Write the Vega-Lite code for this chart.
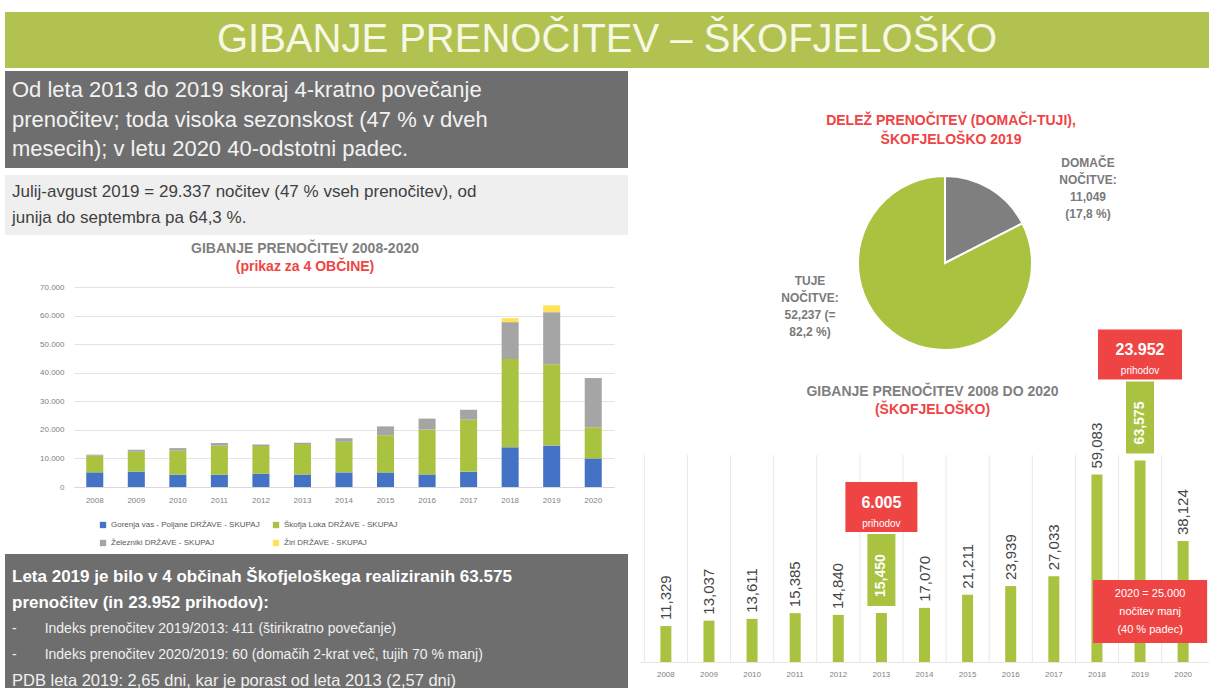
{
  "$schema": "https://vega.github.io/schema/vega-lite/v6.json",
  "padding": {"left": 5, "top": 12, "right": 0, "bottom": 0},
  "spacing": 3,
  "resolve": {"scale": {"color": "independent"}, "legend": {"color": "independent"}},
  "config": {
    "font": "Liberation Sans",
    "view": {"stroke": null},
    "title": {"fontWeight": "bold", "subtitleFontWeight": "bold"}
  },
  "datasets": {
    "naslov": [{"naslov": "GIBANJE PRENOČITEV – ŠKOFJELOŠKO"}],
    "prazno": [],
    "okvir1": [
      {"vrstica": 1, "besedilo": "Od leta 2013 do 2019 skoraj 4-kratno povečanje"},
      {"vrstica": 2, "besedilo": "prenočitev; toda visoka sezonskost (47 % v dveh"},
      {"vrstica": 3, "besedilo": "mesecih); v letu 2020 40-odstotni padec."}
    ],
    "okvir2": [
      {"vrstica": 1, "besedilo": "Julij-avgust 2019 = 29.337 nočitev (47 % vseh prenočitev), od"},
      {"vrstica": 2, "besedilo": "junija do septembra pa 64,3 %."}
    ],
    "okvir3": [
      {"vrstica": 1, "besedilo": "Leta 2019 je bilo v 4 občinah Škofjeloškega realiziranih 63.575"},
      {"vrstica": 2, "besedilo": "prenočitev (in 23.952 prihodov):"},
      {"vrstica": 3, "besedilo": "-\u2003\u2003Indeks prenočitev 2019/2013: 411 (štirikratno povečanje)"},
      {"vrstica": 4, "besedilo": "-\u2003\u2003Indeks prenočitev 2020/2019: 60 (domačih 2-krat več, tujih 70 % manj)"},
      {"vrstica": 5, "besedilo": "PDB leta 2019: 2,65 dni, kar je porast od leta 2013 (2,57 dni)"}
    ],
    "obcine": [
      {"leto": "2008", "obcina": "Gorenja vas - Poljane DRŽAVE - SKUPAJ", "nocitve": 5130},
      {"leto": "2008", "obcina": "Škofja Loka DRŽAVE - SKUPAJ", "nocitve": 5840},
      {"leto": "2008", "obcina": "Železniki DRŽAVE - SKUPAJ", "nocitve": 359},
      {"leto": "2009", "obcina": "Gorenja vas - Poljane DRŽAVE - SKUPAJ", "nocitve": 5370},
      {"leto": "2009", "obcina": "Škofja Loka DRŽAVE - SKUPAJ", "nocitve": 7000},
      {"leto": "2009", "obcina": "Železniki DRŽAVE - SKUPAJ", "nocitve": 667},
      {"leto": "2010", "obcina": "Gorenja vas - Poljane DRŽAVE - SKUPAJ", "nocitve": 4320},
      {"leto": "2010", "obcina": "Škofja Loka DRŽAVE - SKUPAJ", "nocitve": 8390},
      {"leto": "2010", "obcina": "Železniki DRŽAVE - SKUPAJ", "nocitve": 901},
      {"leto": "2011", "obcina": "Gorenja vas - Poljane DRŽAVE - SKUPAJ", "nocitve": 4320},
      {"leto": "2011", "obcina": "Škofja Loka DRŽAVE - SKUPAJ", "nocitve": 10150},
      {"leto": "2011", "obcina": "Železniki DRŽAVE - SKUPAJ", "nocitve": 915},
      {"leto": "2012", "obcina": "Gorenja vas - Poljane DRŽAVE - SKUPAJ", "nocitve": 4600},
      {"leto": "2012", "obcina": "Škofja Loka DRŽAVE - SKUPAJ", "nocitve": 9740},
      {"leto": "2012", "obcina": "Železniki DRŽAVE - SKUPAJ", "nocitve": 500},
      {"leto": "2013", "obcina": "Gorenja vas - Poljane DRŽAVE - SKUPAJ", "nocitve": 4400},
      {"leto": "2013", "obcina": "Škofja Loka DRŽAVE - SKUPAJ", "nocitve": 10650},
      {"leto": "2013", "obcina": "Železniki DRŽAVE - SKUPAJ", "nocitve": 400},
      {"leto": "2014", "obcina": "Gorenja vas - Poljane DRŽAVE - SKUPAJ", "nocitve": 5100},
      {"leto": "2014", "obcina": "Škofja Loka DRŽAVE - SKUPAJ", "nocitve": 10700},
      {"leto": "2014", "obcina": "Železniki DRŽAVE - SKUPAJ", "nocitve": 1270},
      {"leto": "2015", "obcina": "Gorenja vas - Poljane DRŽAVE - SKUPAJ", "nocitve": 5100},
      {"leto": "2015", "obcina": "Škofja Loka DRŽAVE - SKUPAJ", "nocitve": 13000},
      {"leto": "2015", "obcina": "Železniki DRŽAVE - SKUPAJ", "nocitve": 3111},
      {"leto": "2016", "obcina": "Gorenja vas - Poljane DRŽAVE - SKUPAJ", "nocitve": 4400},
      {"leto": "2016", "obcina": "Škofja Loka DRŽAVE - SKUPAJ", "nocitve": 15700},
      {"leto": "2016", "obcina": "Železniki DRŽAVE - SKUPAJ", "nocitve": 3839},
      {"leto": "2017", "obcina": "Gorenja vas - Poljane DRŽAVE - SKUPAJ", "nocitve": 5300},
      {"leto": "2017", "obcina": "Škofja Loka DRŽAVE - SKUPAJ", "nocitve": 18300},
      {"leto": "2017", "obcina": "Železniki DRŽAVE - SKUPAJ", "nocitve": 3433},
      {"leto": "2018", "obcina": "Gorenja vas - Poljane DRŽAVE - SKUPAJ", "nocitve": 13900},
      {"leto": "2018", "obcina": "Škofja Loka DRŽAVE - SKUPAJ", "nocitve": 30900},
      {"leto": "2018", "obcina": "Železniki DRŽAVE - SKUPAJ", "nocitve": 12900},
      {"leto": "2018", "obcina": "Žiri DRŽAVE - SKUPAJ", "nocitve": 1383},
      {"leto": "2019", "obcina": "Gorenja vas - Poljane DRŽAVE - SKUPAJ", "nocitve": 14500},
      {"leto": "2019", "obcina": "Škofja Loka DRŽAVE - SKUPAJ", "nocitve": 28500},
      {"leto": "2019", "obcina": "Železniki DRŽAVE - SKUPAJ", "nocitve": 18200},
      {"leto": "2019", "obcina": "Žiri DRŽAVE - SKUPAJ", "nocitve": 2375},
      {"leto": "2020", "obcina": "Gorenja vas - Poljane DRŽAVE - SKUPAJ", "nocitve": 10000},
      {"leto": "2020", "obcina": "Škofja Loka DRŽAVE - SKUPAJ", "nocitve": 10900},
      {"leto": "2020", "obcina": "Železniki DRŽAVE - SKUPAJ", "nocitve": 17224}
    ],
    "skupaj": [
      {"leto": "2008", "nocitve": 11329},
      {"leto": "2009", "nocitve": 13037},
      {"leto": "2010", "nocitve": 13611},
      {"leto": "2011", "nocitve": 15385},
      {"leto": "2012", "nocitve": 14840},
      {"leto": "2013", "nocitve": 15450, "prihodi": "6.005"},
      {"leto": "2014", "nocitve": 17070},
      {"leto": "2015", "nocitve": 21211},
      {"leto": "2016", "nocitve": 23939},
      {"leto": "2017", "nocitve": 27033},
      {"leto": "2018", "nocitve": 59083},
      {"leto": "2019", "nocitve": 63575, "prihodi": "23.952"},
      {"leto": "2020", "nocitve": 38124}
    ],
    "delez": [
      {"vrsta": "Domače", "nocitve": 11049, "oznaka": "DOMAČE\nNOČITVE:\n11,049\n(17,8 %)"},
      {"vrsta": "Tuje", "nocitve": 52237, "oznaka": "TUJE\nNOČITVE:\n52,237 (=\n82,2 %)"}
    ]
  },
  "vconcat": [
    {
      "width": 1204,
      "height": 56,
      "view": {"fill": "#B2C250", "stroke": null},
      "data": {"name": "naslov"},
      "mark": {"type": "text", "fontSize": 40, "color": "#F6F8E6", "baseline": "middle", "align": "center"},
      "encoding": {"text": {"field": "naslov", "type": "nominal"}}
    },
    {
      "spacing": 12,
      "resolve": {"scale": {"color": "independent"}, "legend": {"color": "independent"}},
      "hconcat": [
        {
          "spacing": 7,
          "resolve": {"scale": {"color": "independent"}, "legend": {"color": "independent"}},
          "vconcat": [
            {
              "width": 623,
              "height": 97,
              "view": {"fill": "#6e6e6e", "stroke": null},
              "data": {"name": "okvir1"},
              "mark": {"type": "text", "align": "left", "baseline": "middle", "fontSize": 22, "color": "#f2f2f2", "dx": 7},
              "encoding": {
                "x": {"datum": 0, "type": "quantitative", "scale": {"domain": [0, 1]}, "axis": null},
                "y": {"field": "vrstica", "type": "ordinal", "axis": null, "scale": {"type": "band", "paddingInner": 0, "paddingOuter": 0.117}},
                "text": {"field": "besedilo", "type": "nominal"}
              }
            },
            {
              "width": 623,
              "height": 60,
              "view": {"fill": "#efefef", "stroke": null},
              "data": {"name": "okvir2"},
              "mark": {"type": "text", "align": "left", "baseline": "middle", "fontSize": 17, "color": "#3f3f3f", "dx": 7},
              "encoding": {
                "x": {"datum": 0, "type": "quantitative", "scale": {"domain": [0, 1]}, "axis": null},
                "y": {"field": "vrstica", "type": "ordinal", "axis": null, "scale": {"type": "band", "paddingInner": 0, "paddingOuter": 0.154}},
                "text": {"field": "besedilo", "type": "nominal"}
              }
            },
            {
              "spacing": 0,
              "resolve": {"scale": {"color": "independent"}, "legend": {"color": "independent"}},
              "hconcat": [
                {
                  "width": 1,
                  "height": 200,
                  "data": {"name": "prazno"},
                  "mark": {"type": "text"},
                  "encoding": {}
                },
                {
                  "width": 540,
                  "height": 200,
                  "data": {"name": "obcine"},
                  "title": {
                    "text": "GIBANJE PRENOČITEV 2008-2020",
                    "subtitle": "(prikaz za 4 OBČINE)",
                    "fontSize": 14,
                    "color": "#7f7f7f",
                    "subtitleFontSize": 14,
                    "subtitleColor": "#EF4444",
                    "subtitlePadding": 4,
                    "anchor": "middle",
                    "dx": -39,
                    "offset": 9
                  },
                  "mark": {"type": "bar"},
                  "encoding": {
                    "x": {
                      "field": "leto", "type": "ordinal",
                      "scale": {"paddingInner": 0.59, "paddingOuter": 0.295},
                      "axis": {"title": null, "labelAngle": 0, "ticks": false, "labelFontSize": 8, "labelColor": "#7f7f7f", "labelPadding": 9, "domainColor": "#d9d9d9"}
                    },
                    "y": {
                      "field": "nocitve", "type": "quantitative", "stack": "zero",
                      "scale": {"domain": [0, 70000]},
                      "axis": {
                        "title": null, "values": [0, 10000, 20000, 30000, 40000, 50000, 60000, 70000],
                        "labelExpr": "replace(format(datum.value, ','), ',', '.')",
                        "labelFontSize": 8, "labelColor": "#7f7f7f", "labelPadding": 10,
                        "ticks": false, "domain": false, "gridColor": "#e3e3e3", "minExtent": 68
                      }
                    },
                    "order": {"field": "obcina", "type": "nominal", "sort": "ascending"},
                    "color": {
                      "field": "obcina", "type": "nominal",
                      "scale": {
                        "domain": ["Gorenja vas - Poljane DRŽAVE - SKUPAJ", "Škofja Loka DRŽAVE - SKUPAJ", "Železniki DRŽAVE - SKUPAJ", "Žiri DRŽAVE - SKUPAJ"],
                        "range": ["#4472C4", "#A9C23F", "#A5A5A5", "#FFE15A"]
                      },
                      "legend": {
                        "title": null, "orient": "none", "legendX": 25, "legendY": 234, "columns": 2, "direction": "horizontal",
                        "symbolType": "square", "symbolSize": 40, "labelFontSize": 8, "labelColor": "#595959",
                        "columnPadding": 12, "rowPadding": 10, "labelLimit": 300
                      }
                    }
                  }
                }
              ]
            },
            {
              "width": 623,
              "height": 150,
              "view": {"fill": "#6e6e6e", "stroke": null},
              "data": {"name": "okvir3"},
              "encoding": {
                "x": {"datum": 0, "type": "quantitative", "scale": {"domain": [0, 1]}, "axis": null},
                "y": {"field": "vrstica", "type": "ordinal", "axis": null, "scale": {"type": "band", "paddingInner": 0, "paddingOuter": 0.385}},
                "text": {"field": "besedilo", "type": "nominal"}
              },
              "layer": [
                {
                  "transform": [{"filter": "datum.vrstica <= 2"}],
                  "mark": {"type": "text", "align": "left", "baseline": "middle", "fontSize": 17, "fontWeight": "bold", "color": "#ffffff", "dx": 7}
                },
                {
                  "transform": [{"filter": "datum.vrstica >= 3"}],
                  "mark": {"type": "text", "align": "left", "baseline": "middle", "color": "#f0f0f0", "dx": 7},
                  "encoding": {
                    "size": {"condition": {"test": "datum.vrstica == 5", "value": 16.5}, "value": 14}
                  }
                }
              ]
            }
          ]
        },
        {
          "spacing": 0,
          "bounds": "flush",
          "vconcat": [
            {
              "width": 610,
              "height": 384,
              "data": {"name": "delez"},
              "title": {
                "text": ["DELEŽ PRENOČITEV (DOMAČI-TUJI),", "ŠKOFJELOŠKO 2019"],
                "color": "#EF4444",
                "fontSize": 14,
                "lineHeight": 19,
                "anchor": "middle",
                "dx": 6,
                "offset": -76
              },
              "layer": [
                {
                  "mark": {"type": "arc", "outerRadius": 87, "stroke": "#ffffff", "strokeWidth": 2},
                  "encoding": {
                    "theta": {"field": "nocitve", "type": "quantitative", "stack": true},
                    "color": {"field": "vrsta", "type": "nominal", "scale": {"domain": ["Domače", "Tuje"], "range": ["#7f7f7f", "#A9C23F"]}, "legend": null}
                  }
                },
                {
                  "transform": [{"filter": "datum.vrsta == 'Domače'"}],
                  "mark": {"type": "text", "align": "center", "baseline": "top", "lineBreak": "\n", "lineHeight": 17, "fontSize": 12, "fontWeight": "bold", "color": "#7a7a7a", "dx": 143, "dy": -105},
                  "encoding": {"text": {"field": "oznaka", "type": "nominal"}}
                },
                {
                  "transform": [{"filter": "datum.vrsta == 'Tuje'"}],
                  "mark": {"type": "text", "align": "center", "baseline": "top", "lineBreak": "\n", "lineHeight": 17, "fontSize": 12, "fontWeight": "bold", "color": "#7a7a7a", "dx": -135, "dy": 13},
                  "encoding": {"text": {"field": "oznaka", "type": "nominal"}}
                }
              ]
            },
            {
              "width": 569,
              "height": 207,
              "data": {"name": "skupaj"},
              "title": {
                "text": "GIBANJE PRENOČITEV 2008 DO 2020",
                "subtitle": "(ŠKOFJELOŠKO)",
                "frame": "group",
                "fontSize": 14,
                "color": "#7f7f7f",
                "subtitleFontSize": 14,
                "subtitleColor": "#EF4444",
                "subtitlePadding": 4,
                "anchor": "middle",
                "dx": 8,
                "offset": -88
              },
              "encoding": {
                "x": {
                  "field": "leto", "type": "ordinal",
                  "scale": {"paddingInner": 0, "paddingOuter": 0.1},
                  "axis": {"title": null, "labelAngle": 0, "ticks": false, "labelFontSize": 8, "labelColor": "#7f7f7f", "labelPadding": 8, "domainColor": "#e6e6e6", "grid": false}
                }
              },
              "layer": [
                {
                  "mark": {"type": "rule", "xOffset": -21.5, "color": "#e8e8e8", "strokeWidth": 1},
                  "encoding": {}
                },
                {
                  "mark": {"type": "bar", "size": 11, "color": "#A9C23F"},
                  "encoding": {
                    "y": {"field": "nocitve", "type": "quantitative", "scale": {"domain": [0, 65270], "nice": false, "zero": true}, "axis": null}
                  }
                },
                {
                  "transform": [{"filter": "datum.leto != '2013' && datum.leto != '2019'"}],
                  "mark": {"type": "text", "angle": 270, "align": "left", "baseline": "middle", "dx": 6, "fontSize": 15, "color": "#454545"},
                  "encoding": {
                    "y": {"field": "nocitve", "type": "quantitative"},
                    "text": {"field": "nocitve", "type": "quantitative", "format": ",d"}
                  }
                },
                {
                  "transform": [{"filter": "datum.leto == '2013' || datum.leto == '2019'"}],
                  "mark": {"type": "bar", "size": 28, "color": "#A9C23F", "yOffset": -79, "y2Offset": -7},
                  "encoding": {
                    "y": {"field": "nocitve", "type": "quantitative"},
                    "y2": {"field": "nocitve"}
                  }
                },
                {
                  "transform": [{"filter": "datum.leto == '2013' || datum.leto == '2019'"}],
                  "mark": {"type": "text", "angle": 270, "align": "left", "baseline": "middle", "dx": 16, "fontSize": 14, "fontWeight": "bold", "color": "#ffffff"},
                  "encoding": {
                    "y": {"field": "nocitve", "type": "quantitative"},
                    "text": {"field": "nocitve", "type": "quantitative", "format": ",d"}
                  }
                },
                {
                  "transform": [{"filter": "datum.leto == '2013' || datum.leto == '2019'"}],
                  "mark": {"type": "bar", "color": "#EF4444", "yOffset": -131, "y2Offset": -81},
                  "encoding": {
                    "y": {"field": "nocitve", "type": "quantitative"},
                    "y2": {"field": "nocitve"},
                    "size": {"condition": {"test": "datum.leto == '2019'", "value": 84}, "value": 72}
                  }
                },
                {
                  "transform": [{"filter": "datum.leto == '2013' || datum.leto == '2019'"}],
                  "mark": {"type": "text", "align": "center", "baseline": "middle", "dy": -110, "fontSize": 16, "fontWeight": "bold", "color": "#ffffff"},
                  "encoding": {
                    "y": {"field": "nocitve", "type": "quantitative"},
                    "text": {"field": "prihodi", "type": "nominal"}
                  }
                },
                {
                  "transform": [{"filter": "datum.leto == '2013' || datum.leto == '2019'"}],
                  "mark": {"type": "text", "align": "center", "baseline": "middle", "dy": -89, "fontSize": 10, "color": "#ffffff", "text": "prihodov"},
                  "encoding": {
                    "y": {"field": "nocitve", "type": "quantitative"}
                  }
                },
                {
                  "transform": [{"filter": "datum.leto == '2020'"}],
                  "mark": {"type": "bar", "color": "#EF4444", "size": 114, "xOffset": -33, "yOffset": -82, "y2Offset": -19},
                  "encoding": {
                    "y": {"datum": 0, "type": "quantitative"},
                    "y2": {"datum": 0}
                  }
                },
                {
                  "transform": [{"filter": "datum.leto == '2020'"}],
                  "mark": {"type": "text", "align": "center", "baseline": "top", "dx": -33, "dy": -74, "lineHeight": 18, "fontSize": 11, "color": "#ffffff", "text": ["2020 = 25.000", "nočitev manj", "(40 % padec)"]},
                  "encoding": {
                    "y": {"datum": 0, "type": "quantitative"}
                  }
                }
              ]
            }
          ]
        }
      ]
    }
  ]
}
